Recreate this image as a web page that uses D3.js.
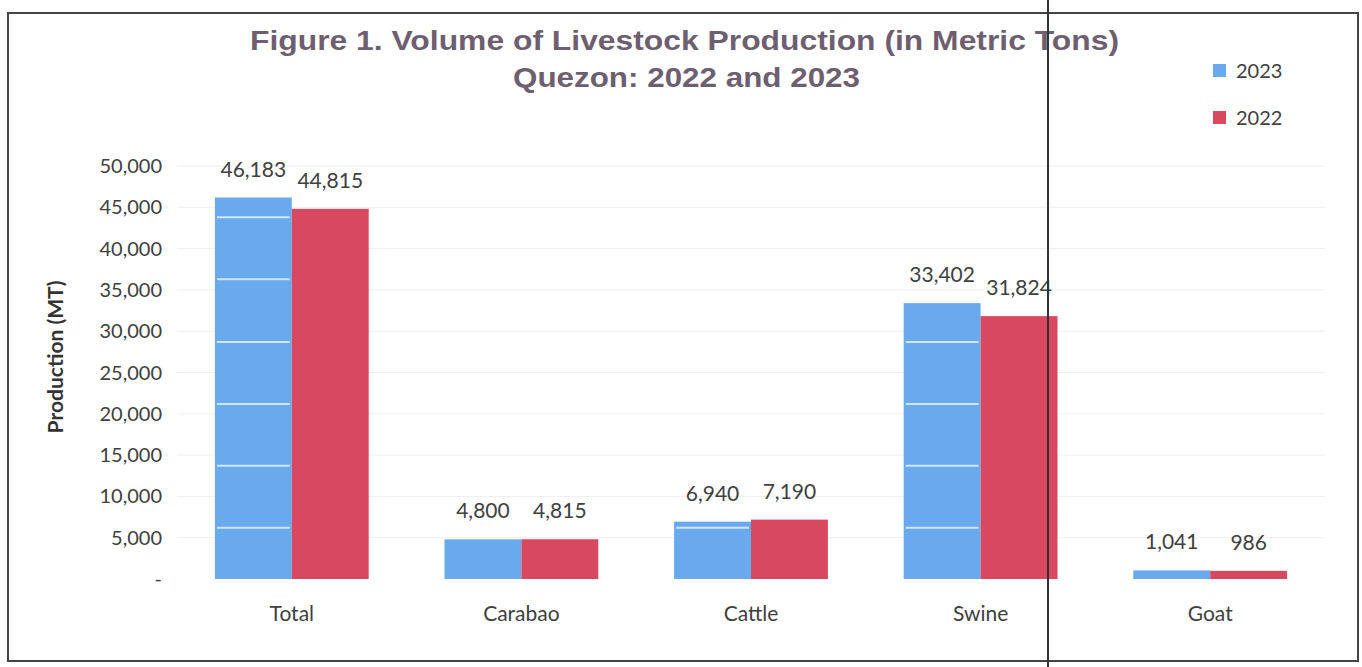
<!DOCTYPE html>
<html>
<head>
<meta charset="utf-8">
<script src="https://cdn.jsdelivr.net/npm/d3@7"></script>
<style>
  body { margin: 0; background: #fff; }
  text { font-family: Lato, "Open Sans", sans-serif; }
</style>
</head>
<body>
<script>
// Data
const categories = ['Total', 'Carabao', 'Cattle', 'Swine', 'Goat'];
const seriesNames = ['2023', '2022'];
const values2023 = [46183, 4800, 6940, 33402, 1041];
const values2022 = [44815, 4815, 7190, 31824, 986];
const yTicks = [0, 5000, 10000, 15000, 20000, 25000, 30000, 35000, 40000, 45000, 50000];
// pale streaks that show through the 2023 bars in the scan
const streakValues = [6200, 13700, 21200, 28700, 36300, 43800];

const colors = {'2023': '#69a9ee', '2022': '#d8485e'};

const width = 1362, height = 667;

const svg = d3.select('body').append('svg')
    .attr('width', width)
    .attr('height', height);

// frame (scanned page border)
svg.append('rect')
    .attr('x', 8).attr('y', 13)
    .attr('width', 1350).attr('height', 648)
    .attr('fill', 'none')
    .attr('stroke', '#444')
    .attr('stroke-width', 2);

const x0 = d3.scaleBand()
    .domain(categories)
    .range([177, 1325])
    .paddingInner(0.33)
    .paddingOuter(0.165);

const x1 = d3.scaleBand()
    .domain(seriesNames)
    .range([0, x0.bandwidth()]);

const y = d3.scaleLinear()
    .domain([0, 50000])
    .range([579, 166]);

// gridlines
svg.append('g')
  .selectAll('line')
  .data(yTicks.slice(1))
  .join('line')
    .attr('x1', 177).attr('x2', 1325)
    .attr('y1', d => y(d)).attr('y2', d => y(d))
    .attr('stroke', '#efefef')
    .attr('stroke-width', 1);

// y axis labels
const fmt = d3.format(',');
svg.append('g')
  .selectAll('text')
  .data(yTicks)
  .join('text')
    .attr('x', 162)
    .attr('y', d => y(d))
    .attr('dy', '0.35em')
    .attr('text-anchor', 'end')
    .attr('font-size', 20)
    .attr('fill', '#404040')
    .text(d => d === 0 ? '-' : fmt(d));

svg.append('text')
    .attr('transform', 'translate(63,357) rotate(-90)')
    .attr('text-anchor', 'middle')
    .attr('font-size', 21)
    .attr('font-weight', 'bold')
    .attr('fill', '#333')
    .text('Production (MT)');

// bars
const rows = categories.map((c, i) => ({
  category: c,
  values: [
    {series: '2023', value: values2023[i]},
    {series: '2022', value: values2022[i]}
  ]
}));

const groups = svg.append('g')
  .selectAll('g')
  .data(rows)
  .join('g')
    .attr('transform', d => 'translate(' + x0(d.category) + ',0)');

groups.selectAll('rect')
  .data(d => d.values)
  .join('rect')
    .attr('x', d => x1(d.series))
    .attr('y', d => y(d.value))
    .attr('width', x1.bandwidth())
    .attr('height', d => y(0) - y(d.value))
    .attr('fill', d => colors[d.series]);

groups.selectAll('line.streak')
  .data(d => streakValues.filter(v => v < values2023[categories.indexOf(d.category)]))
  .join('line')
    .attr('class', 'streak')
    .attr('x1', x1('2023') + 2)
    .attr('x2', x1('2023') + x1.bandwidth() - 2)
    .attr('y1', d => y(d)).attr('y2', d => y(d))
    .attr('stroke', '#d3e5f9')
    .attr('stroke-width', 2);

groups.selectAll('text.value')
  .data(d => d.values)
  .join('text')
    .attr('class', 'value')
    .attr('x', d => x1(d.series) + x1.bandwidth() / 2)
    .attr('y', d => y(d.value) - 21)
    .attr('text-anchor', 'middle')
    .attr('font-size', 21)
    .attr('fill', '#404040')
    .text(d => fmt(d.value));

// category labels
svg.append('g')
  .selectAll('text')
  .data(categories)
  .join('text')
    .attr('x', d => x0(d) + x0.bandwidth() / 2)
    .attr('y', 621)
    .attr('text-anchor', 'middle')
    .attr('font-size', 21)
    .attr('fill', '#404040')
    .text(d => d);

// title
const titleFont = '"Liberation Sans", Arial, sans-serif';
const titleLines = [
  {text: 'Figure 1. Volume of Livestock Production (in Metric Tons)', x: 250, y: 50, len: 869},
  {text: 'Quezon: 2022 and 2023', x: 513, y: 87, len: 347}
];
svg.append('g')
  .selectAll('text')
  .data(titleLines)
  .join('text')
    .attr('x', d => d.x)
    .attr('y', d => d.y)
    .attr('textLength', d => d.len)
    .attr('lengthAdjust', 'spacingAndGlyphs')
    .style('font-family', titleFont)
    .attr('font-weight', 'bold')
    .attr('font-size', 27)
    .attr('fill', '#6e5f70')
    .text(d => d.text);

// legend
const legend = svg.append('g')
  .selectAll('g')
  .data(seriesNames)
  .join('g')
    .attr('transform', (d, i) => 'translate(1213,' + (71 + i * 47) + ')');
legend.append('rect')
    .attr('x', 0).attr('y', -7)
    .attr('width', 13).attr('height', 13)
    .attr('fill', d => colors[d]);
legend.append('text')
    .attr('x', 23)
    .attr('dy', '0.35em')
    .attr('font-size', 20)
    .attr('fill', '#404040')
    .text(d => d);

// scanned fold line
svg.append('line')
    .attr('x1', 1048).attr('x2', 1048)
    .attr('y1', 0).attr('y2', height)
    .attr('stroke', '#333')
    .attr('stroke-width', 2);
</script>
</body>
</html>
